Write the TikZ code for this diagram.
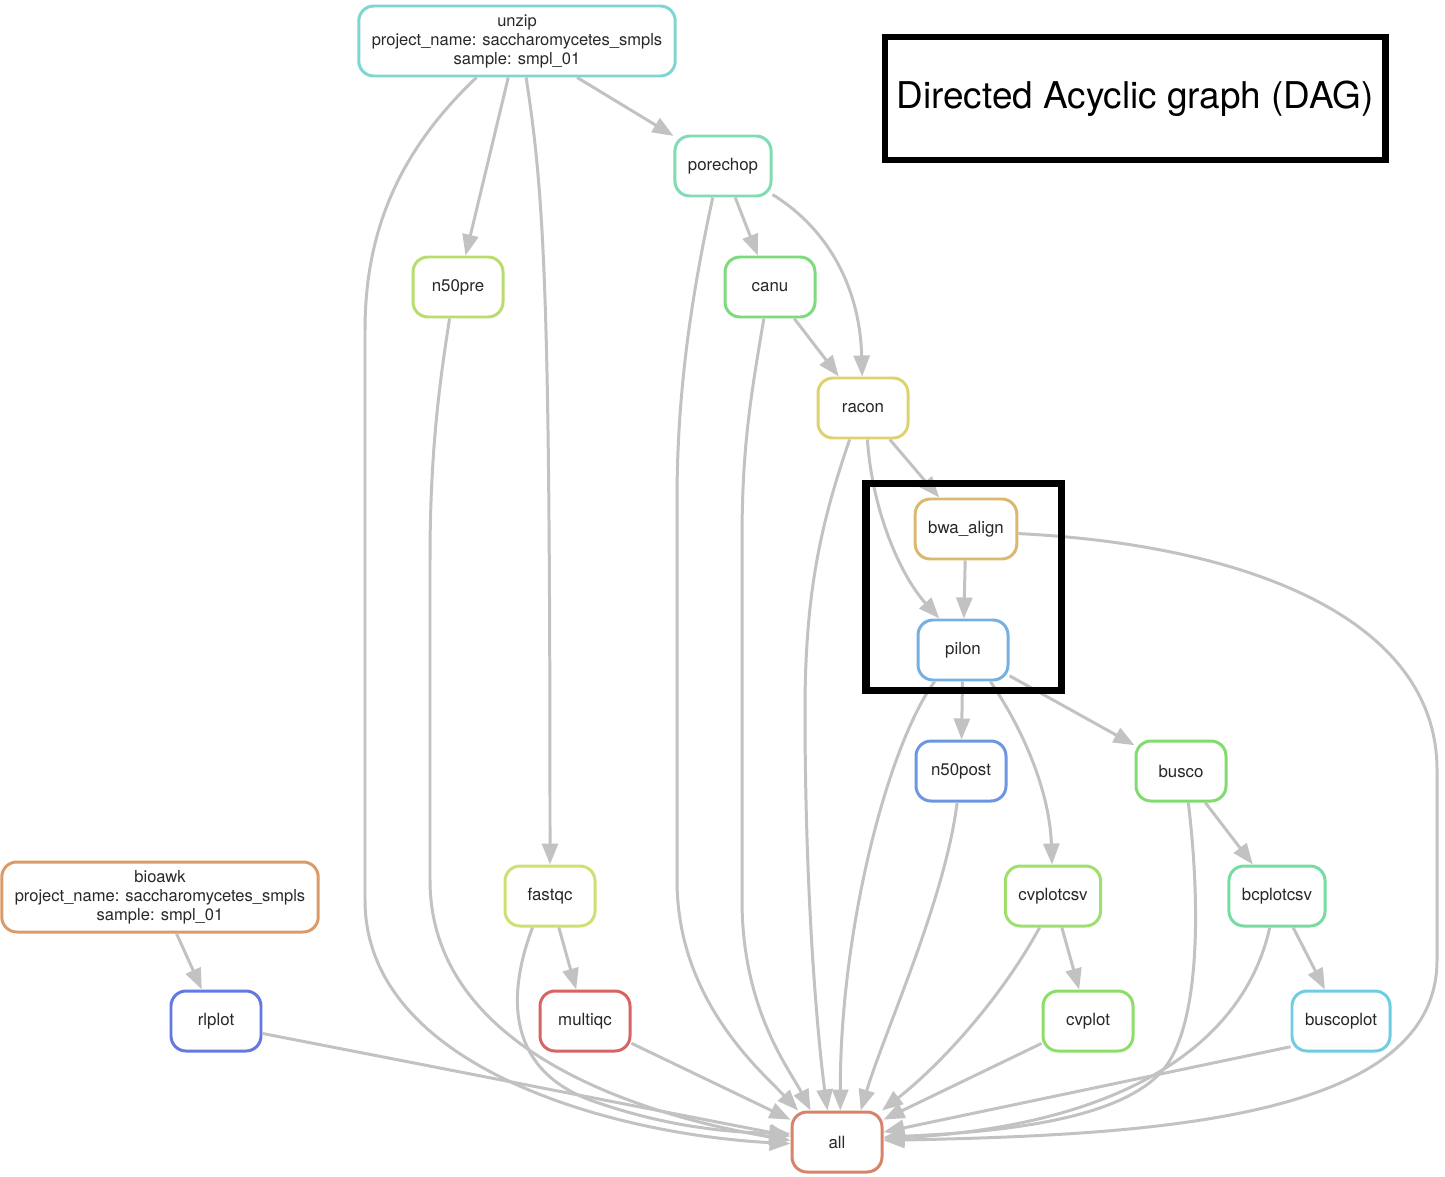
\documentclass[tikz,border=0pt]{standalone}
\usepackage{fontspec}
\setmainfont{TeX Gyre Heros}
\usetikzlibrary{arrows.meta}
\definecolor{edgegray}{RGB}{194,194,194}
\definecolor{txtgray}{RGB}{40,40,40}
\definecolor{cunzip}{RGB}{125,214,207}
\definecolor{cporechop}{RGB}{127,220,181}
\definecolor{cnfiftypre}{RGB}{185,220,110}
\definecolor{ccanu}{RGB}{125,218,125}
\definecolor{cracon}{RGB}{221,210,110}
\definecolor{cbwa}{RGB}{218,185,110}
\definecolor{cpilon}{RGB}{118,176,225}
\definecolor{cnfiftypost}{RGB}{108,150,225}
\definecolor{cbusco}{RGB}{128,220,110}
\definecolor{cfastqc}{RGB}{205,225,115}
\definecolor{ccvplotcsv}{RGB}{160,222,110}
\definecolor{cbcplotcsv}{RGB}{118,220,160}
\definecolor{cbioawk}{RGB}{218,155,105}
\definecolor{crlplot}{RGB}{100,120,225}
\definecolor{cmultiqc}{RGB}{215,100,100}
\definecolor{ccvplot}{RGB}{140,222,105}
\definecolor{cbuscoplot}{RGB}{110,205,225}
\definecolor{call}{RGB}{215,130,105}
\begin{document}
\begin{tikzpicture}[x=0.1mm,y=0.1mm,
	job/.style={draw, rectangle, rounded corners=1.5mm, line width=0.85pt, fill=white,
		minimum width=9mm, minimum height=6mm, inner xsep=1.3mm, align=center,
		text=txtgray, font=\fontsize{4.8}{5.4}\selectfont},
	bigjob/.style={job, minimum height=7mm, inner ysep=0.2mm, font=\fontsize{4.7}{5.4}\selectfont},
	flow/.style={draw=edgegray, line width=0.85pt, -{Triangle[length=2.1mm,width=1.6mm]}}]
		\useasboundingbox (0,0) rectangle (1445,-1177);
		% jobs
		\node[bigjob, draw=cunzip] (unzip) at (517,-41) {unzip\\project\_name: saccharomycetes\_smpls\\sample: smpl\_01};
		\node[job, draw=cporechop] (porechop) at (723,-166) {porechop};
		\node[job, draw=cnfiftypre] (n50pre) at (458,-287) {n50pre};
		\node[job, draw=ccanu] (canu) at (770,-287) {canu};
		\node[job, draw=cracon] (racon) at (863,-408) {racon};
		\node[job, draw=cbwa] (bwa) at (966,-529) {bwa\_align};
		\node[job, draw=cpilon] (pilon) at (963,-650) {pilon};
		\node[job, draw=cnfiftypost] (n50post) at (961,-771) {n50post};
		\node[job, draw=cbusco] (busco) at (1181,-771) {busco};
		\node[bigjob, draw=cbioawk] (bioawk) at (160,-897) {bioawk\\project\_name: saccharomycetes\_smpls\\sample: smpl\_01};
		\node[job, draw=cfastqc] (fastqc) at (550,-896) {fastqc};
		\node[job, draw=ccvplotcsv] (cvplotcsv) at (1053,-896) {cvplotcsv};
		\node[job, draw=cbcplotcsv] (bcplotcsv) at (1277,-896) {bcplotcsv};
		\node[job, draw=crlplot] (rlplot) at (216,-1021) {rlplot};
		\node[job, draw=cmultiqc] (multiqc) at (585,-1021) {multiqc};
		\node[job, draw=ccvplot] (cvplot) at (1088,-1021) {cvplot};
		\node[job, draw=cbuscoplot] (buscoplot) at (1341,-1021) {buscoplot};
		\node[job, draw=call] (all) at (837,-1142) {all};
		% title
		\node[draw, line width=1.9pt, minimum width=49.8mm, minimum height=12.3mm,
			font=\fontsize{10.5}{12}\selectfont] (dagtitle) at (1135,-98.5) {Directed Acyclic graph (DAG)};
		% dependencies
		\draw[flow] (unzip) -- (porechop);
		\draw[flow] (unzip) -- (n50pre);
		\draw[flow] (unzip.284) .. controls (545,-200) and (550,-300) .. (fastqc);
		\draw[flow] (unzip.222) .. controls (400,-150) and (365,-230) .. (365,-330) -- (365,-900) .. controls (365,-1070) and (620,-1135) .. (all.182);
		\draw[flow] (n50pre.255) .. controls (440,-380) and (430,-450) .. (430,-560) -- (430,-880) .. controls (430,-1050) and (640,-1115) .. (all.178);
		\draw[flow] (porechop) -- (canu);
		\draw[flow] (porechop.330) .. controls (830,-230) and (860,-290) .. (racon);
		\draw[flow] (porechop.252) .. controls (695,-280) and (677,-380) .. (677,-500) -- (677,-880) .. controls (677,-1000) and (760,-1070) .. (all.141);
		\draw[flow] (canu) -- (racon);
		\draw[flow] (canu.259) .. controls (750,-400) and (742,-450) .. (742,-540) -- (742,-900) .. controls (742,-1010) and (790,-1070) .. (all.130);
		\draw[flow] (racon) -- (bwa);
		\draw[flow] (racon.278) .. controls (872,-510) and (900,-575) .. (pilon.127);
		\draw[flow] (racon.247) .. controls (822,-520) and (805,-590) .. (805,-710) .. controls (805,-900) and (818,-1040) .. (all.107);
		\draw[flow] (bwa) -- (pilon);
		\draw[flow] (bwa.355) .. controls (1250,-545) and (1437,-620) .. (1437,-770) -- (1437,-960) .. controls (1437,-1120) and (1150,-1135) .. (all.2);
		\draw[flow] (pilon) -- (n50post);
		\draw[flow] (pilon) -- (busco);
		\draw[flow] (pilon.311) .. controls (1030,-740) and (1050,-800) .. (cvplotcsv);
		\draw[flow] (pilon.228) .. controls (888,-745) and (840,-930) .. (all.84);
		\draw[flow] (n50post.263) .. controls (945,-900) and (885,-1030) .. (all.53);
		\draw[flow] (busco) -- (bcplotcsv);
		\draw[flow] (busco.283) .. controls (1200,-900) and (1200,-1010) .. (1170,-1060) .. controls (1135,-1120) and (1000,-1132) .. (all.6);
		\draw[flow] (bcplotcsv) -- (buscoplot);
		\draw[flow] (bcplotcsv.257) .. controls (1245,-1040) and (1130,-1125) .. (all.4);
		\draw[flow] (cvplotcsv) -- (cvplot);
		\draw[flow] (cvplotcsv.247) .. controls (1000,-1000) and (940,-1065) .. (all.35);
		\draw[flow] (fastqc) -- (multiqc);
		\draw[flow] (fastqc.241) .. controls (505,-1000) and (510,-1070) .. (590,-1100) .. controls (660,-1125) and (720,-1132) .. (all.170);
		\draw[flow] (bioawk) -- (rlplot);
		\draw[flow] (rlplot.345) -- (all.173);
		\draw[flow] (multiqc) -- (all);
		\draw[flow] (cvplot) -- (all);
		\draw[flow] (buscoplot.207) -- (all.12);
		% highlight
		\draw[line width=2.1pt] (866,-483.5) rectangle (1061.5,-690.5);
\end{tikzpicture}
\end{document}
